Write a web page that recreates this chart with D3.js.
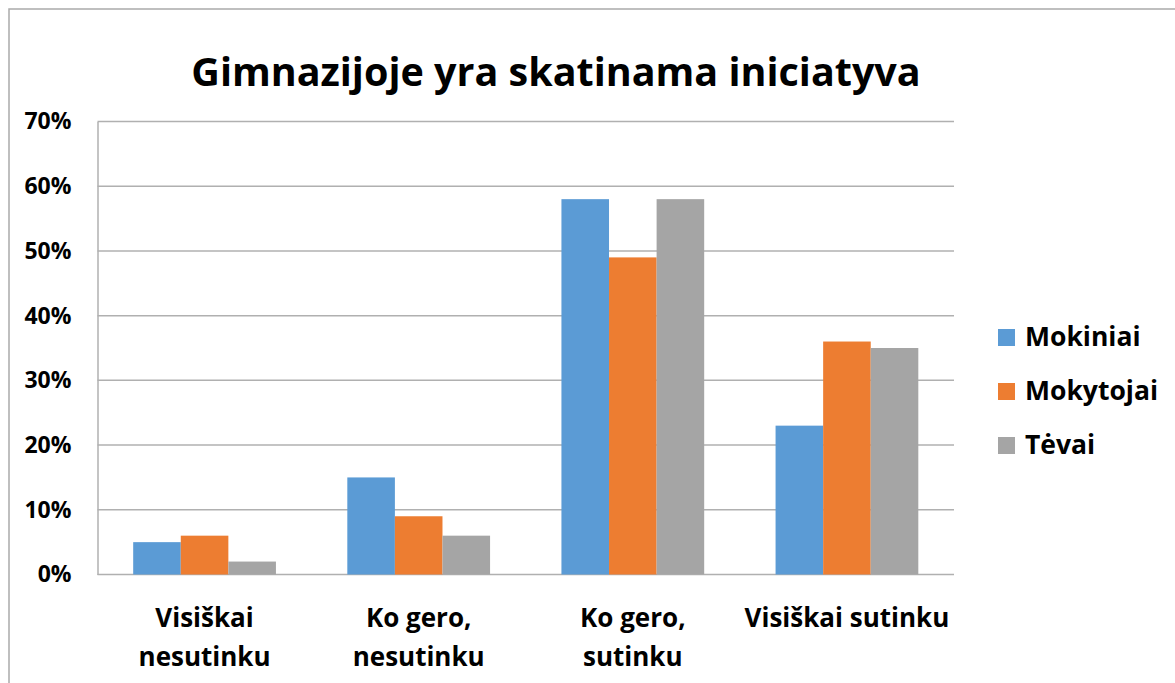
<!DOCTYPE html>
<html>
<head>
<meta charset="utf-8">
<script src="https://cdn.jsdelivr.net/npm/d3@7"></script>
<style>
  body { margin: 0; background: #fff; }
  svg text { font-family: "Open Sans", Lato, sans-serif; font-weight: bold; fill: #000; }
</style>
</head>
<body>
<svg id="chart" width="1175" height="683"></svg>
<script>
// chart data
var categories = [["Visiškai", "nesutinku"], ["Ko gero,", "nesutinku"], ["Ko gero,", "sutinku"], ["Visiškai sutinku"]];
var seriesNames = ["Mokiniai", "Mokytojai", "Tėvai"];
var mokiniai = [5, 15, 58, 23];
var mokytojai = [6, 9, 49, 36];
var tevai = [2, 6, 58, 35];
var yTicks = [0, 10, 20, 30, 40, 50, 60, 70];
var colors = ["#5b9bd5", "#ed7d31", "#a5a5a5"];

var seriesValues = [mokiniai, mokytojai, tevai];

// layout
var plot = { left: 97.5, right: 954, top: 121.5, bottom: 574.5 };

var svg = d3.select('#chart');

// outer chart border (runs off the canvas right/bottom)
svg.append('rect')
    .attr('x', 9).attr('y', 9)
    .attr('width', 1300).attr('height', 800)
    .style('fill', 'none')
    .style('stroke', '#ababab')
    .style('stroke-width', 1.5);

svg.append('text')
    .attr('x', 556).attr('y', 86)
    .attr('text-anchor', 'middle')
    .style('font-size', '39.5px')
    .text('Gimnazijoje yra skatinama iniciatyva');

var catKeys = categories.map(function (c) { return c.join(' '); });

var x0 = d3.scaleBand()
    .domain(catKeys)
    .range([plot.left, plot.right])
    .padding(0);

var x1 = d3.scaleBand()
    .domain(seriesNames)
    .range([0, x0.bandwidth()])
    .paddingInner(0)
    .paddingOuter(0.75);

var yScale = d3.scaleLinear()
    .domain([0, 70])
    .range([plot.bottom, plot.top]);

// gridlines
svg.append('g')
    .selectAll('line')
    .data(yTicks)
    .enter()
    .append('line')
    .attr('x1', plot.left)
    .attr('x2', plot.right)
    .attr('y1', function (d) { return yScale(d); })
    .attr('y2', function (d) { return yScale(d); })
    .style('stroke', '#b0b0b0')
    .style('stroke-width', 1.5);

// y axis
var yAxis = d3.axisLeft(yScale)
    .tickValues(yTicks)
    .tickSize(0)
    .tickPadding(26)
    .tickFormat(function (d) { return d + '%'; });

svg.append('g')
    .attr('class', 'y axis')
    .attr('transform', 'translate(' + plot.left + ',0)')
    .call(yAxis)
    .call(function (g) { g.select('.domain').style('stroke', '#b0b0b0').style('stroke-width', 1.5); })
    .call(function (g) {
        g.selectAll('.tick text')
            .style('font-size', '23px')
            .style('font-family', '"Open Sans", sans-serif')
            .style('font-weight', 'bold')
            .attr('fill', '#000');
    });

// bars
var groups = svg.selectAll('.group')
    .data(catKeys)
    .enter()
    .append('g')
    .attr('class', 'group')
    .attr('transform', function (d) { return 'translate(' + x0(d) + ',0)'; });

groups.selectAll('rect')
    .data(function (d, i) {
        return seriesNames.map(function (s, j) {
            return { series: s, value: seriesValues[j][i], color: colors[j] };
        });
    })
    .enter()
    .append('rect')
    .attr('x', function (d) { return x1(d.series); })
    .attr('width', x1.bandwidth())
    .attr('y', function (d) { return yScale(d.value); })
    .attr('height', function (d) { return yScale(0) - yScale(d.value); })
    .style('fill', function (d) { return d.color; });

// x labels
groups.each(function (d, i) {
    var g = d3.select(this);
    var t = g.append('text')
        .attr('text-anchor', 'middle')
        .style('font-size', '26px');
    categories[i].forEach(function (line, k) {
        t.append('tspan')
            .attr('x', x0.bandwidth() / 2)
            .attr('y', 627 + k * 39)
            .text(line);
    });
});

// legend
var legend = svg.selectAll('.legend')
    .data(seriesNames)
    .enter()
    .append('g')
    .attr('class', 'legend')
    .attr('transform', function (d, i) { return 'translate(998,' + (337 + i * 54) + ')'; });

legend.append('rect')
    .attr('x', 0).attr('y', -8)
    .attr('width', 17).attr('height', 17)
    .style('fill', function (d, i) { return colors[i]; });

legend.append('text')
    .attr('x', 27)
    .attr('y', 9)
    .style('font-size', '26.5px')
    .text(function (d) { return d; });
</script>
</body>
</html>
